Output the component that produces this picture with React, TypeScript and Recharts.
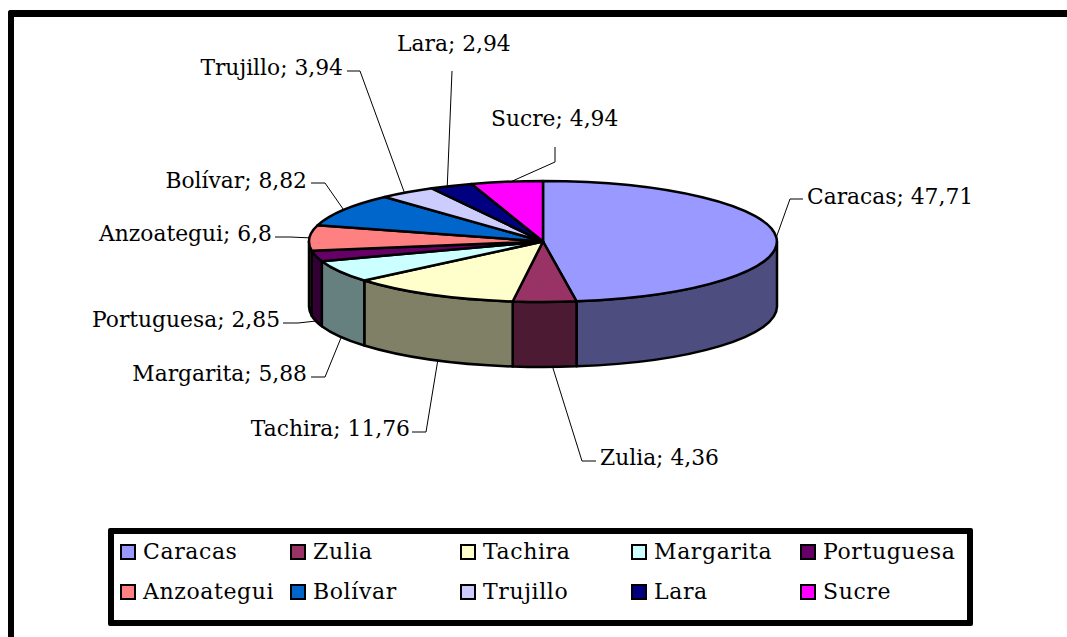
import React from "react";
import { PieChart, Pie, Legend, Cell } from "recharts";

const categories = ["Caracas", "Zulia", "Tachira", "Margarita", "Portuguesa", "Anzoategui", "Bolívar", "Trujillo", "Lara", "Sucre"];
const values = [47.71, 4.36, 11.76, 5.88, 2.85, 6.8, 8.82, 3.94, 2.94, 4.94];
const valueLabels = ["47,71", "4,36", "11,76", "5,88", "2,85", "6,8", "8,82", "3,94", "2,94", "4,94"];
const topColors = ["#9999FF", "#993366", "#FFFFCC", "#CCFFFF", "#660066", "#FF8080", "#0066CC", "#CCCCFF", "#000080", "#FF00FF"];
const sideColors = ["#4D4D80", "#4D1A33", "#808066", "#668080", "#330033", "#804040", "#003366", "#666680", "#000040", "#800080"];

const data = categories.map((name, i) => ({ name, value: values[i], label: valueLabels[i] }));

const W = 1067, H = 637;
const CX = 543, CY = 241.5, RX = 234, RY = 60.5, DEPTH = 65;
const FONT = "'DejaVu Serif', serif";
const FS = 21.8;

// leader: anchor nudge from the rim, elbow, end of line; text: x, baseline y
const labelLayout = [
  { nudge: 0, elbow: [790, 199], end: [803, 199], tx: 807, ty: 204, side: false, anchor: "start" },
  { nudge: 8, elbow: [582, 461], end: [596, 461], tx: 600, ty: 465, side: true, anchor: "start" },
  { nudge: 7, elbow: [426, 432], end: [412, 432], tx: 410, ty: 436, side: true, anchor: "end" },
  { nudge: 2, elbow: [325, 377], end: [311, 377], tx: 307, ty: 381, side: true, anchor: "end" },
  { nudge: 0, elbow: [298, 323], end: [283, 323], tx: 280, ty: 327, side: true, anchor: "end" },
  { nudge: 0, elbow: [290, 237], end: [275, 237], tx: 272, ty: 241, side: false, anchor: "end" },
  { nudge: 0, elbow: [325, 183], end: [311, 183], tx: 307, ty: 188, side: false, anchor: "end" },
  { nudge: -3, elbow: [360, 71], end: [347, 71], tx: 343, ty: 75, side: false, anchor: "end" },
  { nudge: -4, elbow: [452, 71], end: [452, 71], tx: 397, ty: 51, side: false, anchor: "start" },
  { nudge: 4, elbow: [555, 162], end: [555, 147], tx: 491, ty: 126, side: false, anchor: "start" },
];

const legendCols = [120, 290, 460, 631, 800];
const legendRows = [552, 592];

const pt = (deg: number, dy = 0): [number, number] => {
  const a = (deg * Math.PI) / 180;
  return [CX + RX * Math.cos(a), CY - RY * Math.sin(a) + dy];
};
const f = (n: number) => n.toFixed(2);

function Slice(props: any) {
  const { startAngle, endAngle, index } = props;
  const parts: React.ReactNode[] = [];
  // visible wall: rim portion in the front half (angles -180 .. 0)
  const hi = Math.min(0, startAngle);
  const lo = Math.max(-180, endAngle);
  if (hi > lo) {
    const [x1, y1] = pt(hi);
    const [x2, y2] = pt(lo);
    const d = `M${f(x1)},${f(y1)} A${RX},${RY} 0 0 1 ${f(x2)},${f(y2)} L${f(x2)},${f(y2 + DEPTH)} A${RX},${RY} 0 0 0 ${f(x1)},${f(y1 + DEPTH)} Z`;
    parts.push(<path key="w" d={d} fill={sideColors[index]} stroke="#000" strokeWidth={2.5} strokeLinejoin="round" />);
  }
  const [ax, ay] = pt(startAngle);
  const [bx, by] = pt(endAngle);
  const large = startAngle - endAngle > 180 ? 1 : 0;
  const top = `M${CX},${CY} L${f(ax)},${f(ay)} A${RX},${RY} 0 ${large} 1 ${f(bx)},${f(by)} Z`;
  parts.push(<path key="t" d={top} fill={topColors[index]} stroke="#000" strokeWidth={2.5} strokeLinejoin="round" />);
  return <g>{parts}</g>;
}

function SliceLabel(props: any) {
  const { midAngle, index, name, payload } = props;
  const l = labelLayout[index];
  const [x, y] = pt(midAngle, l.side ? DEPTH : 0);
  return (
    <g>
      <polyline points={`${f(x + l.nudge)},${f(y)} ${l.elbow[0]},${l.elbow[1]} ${l.end[0]},${l.end[1]}`} fill="none" stroke="#000" strokeWidth={1} />
      <text x={l.tx} y={l.ty} textAnchor={l.anchor as any} fontFamily={FONT} fontSize={FS} fill="#000">
        {`${name}; ${payload.label}`}
      </text>
    </g>
  );
}

function LegendBox() {
  return (
    <div style={{ position: "absolute", left: 108, top: 528, width: 865, height: 98, boxSizing: "border-box", border: "6px solid #000", borderRadius: 2, background: "#fff" }}>
      {categories.map((c, i) => {
        const col = legendCols[i % 5];
        const row = legendRows[Math.floor(i / 5)];
        return (
          <React.Fragment key={c}>
            <div style={{ position: "absolute", left: col - 114, top: row - 8 - 534, width: 16, height: 16, boxSizing: "border-box", border: "2px solid #000", background: topColors[i] }} />
            <div style={{ position: "absolute", left: col - 114 + 23, top: row - 14 - 534, height: 28, lineHeight: "28px", fontFamily: FONT, fontSize: 22, letterSpacing: 0.6, color: "#000", whiteSpace: "nowrap" }}>{c}</div>
          </React.Fragment>
        );
      })}
    </div>
  );
}

export default function App() {
  return (
    <div style={{ position: "absolute", left: 0, top: 0, width: W, height: H, overflow: "hidden", background: "#fff" }}>
      <div style={{ position: "absolute", left: 8, top: 10, right: 0, bottom: 0, borderTop: "7px solid #000", borderLeft: "6px solid #000", borderTopLeftRadius: 3 }} />
      <div style={{ position: "absolute", left: 0, top: 0 }}>
        <PieChart width={W} height={H} margin={{ top: 0, right: 0, bottom: 0, left: 0 }}>
          <Pie
            data={data}
            dataKey="value"
            nameKey="name"
            cx={CX}
            cy={CY}
            outerRadius={RX}
            startAngle={90}
            endAngle={-270}
            isAnimationActive={false}
            shape={Slice}
            label={SliceLabel}
            labelLine={false}
          >
            {data.map((d, i) => <Cell key={d.name} fill={topColors[i]} />)}
          </Pie>
          <Legend content={() => <LegendBox />} wrapperStyle={{ position: "absolute", left: 0, top: 0, width: 0, height: 0 }} />
        </PieChart>
      </div>
    </div>
  );
}
